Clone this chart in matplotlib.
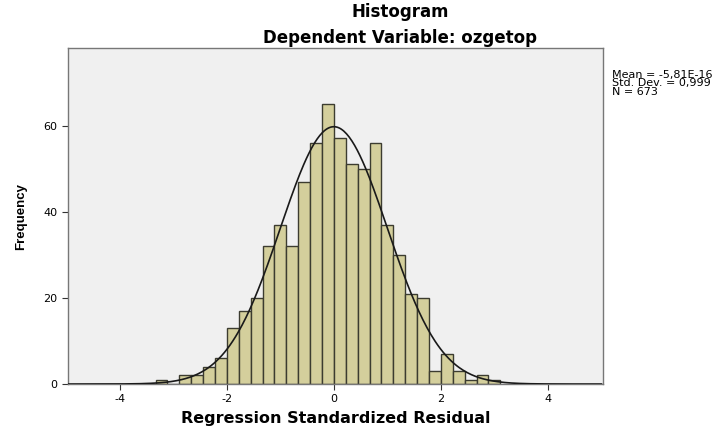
import numpy as np
import matplotlib
matplotlib.use("Agg")
import matplotlib.pyplot as plt

plt.rcParams['font.family'] = ['DejaVu Sans']
plt.rcParams['axes.unicode_minus'] = False

# bin edges: width 2/9, from -3.333 to 3.111
bin_width = 2.0 / 9.0
bin_left = np.arange(-15, 14) * bin_width
counts = [1, 0, 2, 2, 4, 6, 13, 17, 20, 32, 37, 32, 47, 56, 65,
          57, 51, 50, 56, 37, 30, 21, 20, 3, 7, 3, 1, 2, 1]

n_obs = 673
mean_val = 0.0
std_val = 0.999

fig = plt.figure(figsize=(7.23, 4.32), dpi=100)
ax = fig.add_axes([0.094, 0.111, 0.740, 0.778])
ax.set_facecolor('#f0f0f0')

ax.bar(bin_left, counts, width=bin_width, align='edge',
       color='#d4cf9c', edgecolor='#3c3c30', linewidth=1.0, zorder=2)

# normal curve
xs = np.linspace(-5, 5, 400)
ys = n_obs * bin_width * np.exp(-0.5 * ((xs - mean_val) / std_val) ** 2) / (std_val * np.sqrt(2 * np.pi))
ax.plot(xs, ys, color='#1a1a1a', linewidth=1.2, zorder=3)

ax.set_xlim(-4.97, 5.03)
ax.set_ylim(0, 78)
ax.set_xticks([-4, -2, 0, 2, 4])
ax.set_yticks([0, 20, 40, 60])
ax.tick_params(axis='both', direction='out', length=4, labelsize=8, color='#333333')
for s in ax.spines.values():
    s.set_color('#777777')
    s.set_linewidth(1.0)

ax.set_xlabel('Regression Standardized Residual', fontsize=11.5, fontweight='bold', labelpad=5)
ax.set_ylabel('Frequency', fontsize=9.5, fontweight='bold', labelpad=12,
              family=['Liberation Sans', 'DejaVu Sans'])

fig.text(0.553, 0.972, 'Histogram', ha='center', va='center', fontsize=12, fontweight='bold')
fig.text(0.553, 0.911, 'Dependent Variable: ozgetop', ha='center', va='center', fontsize=12, fontweight='bold')

fig.text(0.846, 0.807, 'Mean = -5,81E-16\nStd. Dev. = 0,999\nN = 673',
         ha='left', va='center', fontsize=8, linespacing=0.8)

fig.savefig('out.png', dpi=100)
